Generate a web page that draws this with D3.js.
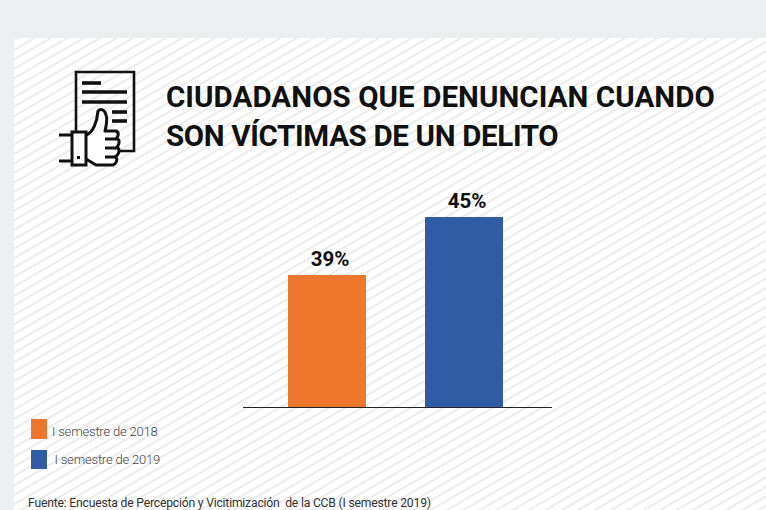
<!DOCTYPE html>
<html><head><meta charset="utf-8">
<script src="https://cdn.jsdelivr.net/npm/d3@7"></script>
<style>html,body{margin:0;padding:0;background:#edeef0;overflow:hidden}svg{display:block}text{font-family:Roboto,Lato,sans-serif;white-space:pre}</style>
</head><body><svg id="c" width="766" height="510"></svg>
<script>
const categories = ["I semestre de 2018", "I semestre de 2019"];
const values = [39, 45];
const valueLabels = ["39%", "45%"];
const colors = ["#ec772d", "#2f5ca5"];
const titleLines = ["CIUDADANOS QUE DENUNCIAN CUANDO", "SON VÍCTIMAS DE UN DELITO"];
const source = "Fuente: Encuesta de Percepción y Vicitimización  de la CCB (I semestre 2019)";

const svg = d3.select("#c");
const defs = svg.append("defs");
const pat = defs.append("pattern").attr("id","st").attr("patternUnits","userSpaceOnUse")
  .attr("width",16).attr("height",8.2).attr("patternTransform","rotate(-30)");
pat.append("rect").attr("width",16).attr("height",8.2).attr("fill","#fff");
pat.append("rect").attr("y",0).attr("width",16).attr("height",2).attr("fill","#ececec");
svg.append("rect").attr("x",14).attr("y",38).attr("width",752).attr("height",472).attr("fill","url(#st)");

// icon
const icon = svg.append("g").attr("fill","none").attr("stroke","#111").attr("stroke-width",2.6);
icon.append("path").attr("d","M76 131V72H134V151H120");
[[82,101,83],[82,127,92],[82,127,102],[112,127,112],[112,127,121]].forEach(l=>
  icon.append("line").attr("x1",l[0]).attr("x2",l[1]).attr("y1",l[2]).attr("y2",l[2]).attr("stroke-width",3.6));
icon.append("path").attr("stroke-width",3).attr("stroke-linejoin","round")
  .attr("fill","#fff").attr("d","M86 135C93 133 97 122 98 111C101 108 105 110 106 115C108 120 106 126 105 131H116C119 132 119 136 116 139H118C120 141 119 146 116 148H118C120 150 119 155 115 157H116C118 160 116 164 113 165H96L86 159");
icon.append("path").attr("stroke-width",3).attr("d","M105 139H116M105 148H116M105 157H115");
icon.append("rect").attr("x",72).attr("y",132).attr("width",14).attr("height",33).attr("fill","#fff").attr("stroke-width",3);
icon.append("path").attr("stroke-width",3).attr("d","M59 135H72M59 161H72");
icon.append("rect").attr("x",77).attr("y",156).attr("width",3).attr("height",3).attr("fill","#111").attr("stroke","none");

// title
svg.append("g").selectAll("text").data(titleLines).join("text")
  .attr("x",166).attr("y",(d,i)=>107+i*39).attr("font-size",29.5)
  .style("font-weight",700).attr("fill","#111")
  .style("letter-spacing",(d,i)=>i===0?"0.07px":"-0.33px")
  .text(d=>d);

// chart
const y = d3.scaleLinear().domain([25.35, 45]).range([407, 217]);
const x = d3.scaleBand().domain(categories).range([288, 503]).paddingInner(1-78/137).paddingOuter(0);
const color = d3.scaleOrdinal().domain(categories).range(colors);

svg.append("g").selectAll("rect").data(values).join("rect")
  .attr("x",(d,i)=>x(categories[i])).attr("width",x.bandwidth())
  .attr("y",d=>y(d)).attr("height",d=>y.range()[0]-y(d))
  .attr("fill",(d,i)=>color(categories[i]));
svg.append("line").attr("x1",243).attr("x2",552).attr("y1",407.5).attr("y2",407.5).attr("stroke","#222").attr("stroke-width",1.2);
svg.append("g").selectAll("text").data(values).join("text")
  .attr("x",(d,i)=>x(categories[i])+x.bandwidth()/2+3).attr("y",d=>y(d)-9)
  .attr("text-anchor","middle").attr("font-size",20.5)
  .style("font-weight",700).attr("fill","#111")
  .text((d,i)=>valueLabels[i]);

// legend
const lg = svg.append("g").selectAll("g").data(categories).join("g");
lg.append("rect").attr("x",31).attr("y",(d,i)=>419+i*31).attr("width",16).attr("height",(d,i)=>20-i)
  .attr("fill",d=>color(d));
lg.append("text").attr("x",(d,i)=>52+i*2.5).attr("y",(d,i)=>436+i*28).attr("font-size",13)
  .style("letter-spacing","-0.2px").style("font-weight",300).attr("fill","#444").text(d=>d);

svg.append("text").attr("x",28).attr("y",507).attr("font-size",12.2).attr("fill","#333")
  .style("letter-spacing","-0.21px").style("font-weight",400).text(source);
</script></body></html>
